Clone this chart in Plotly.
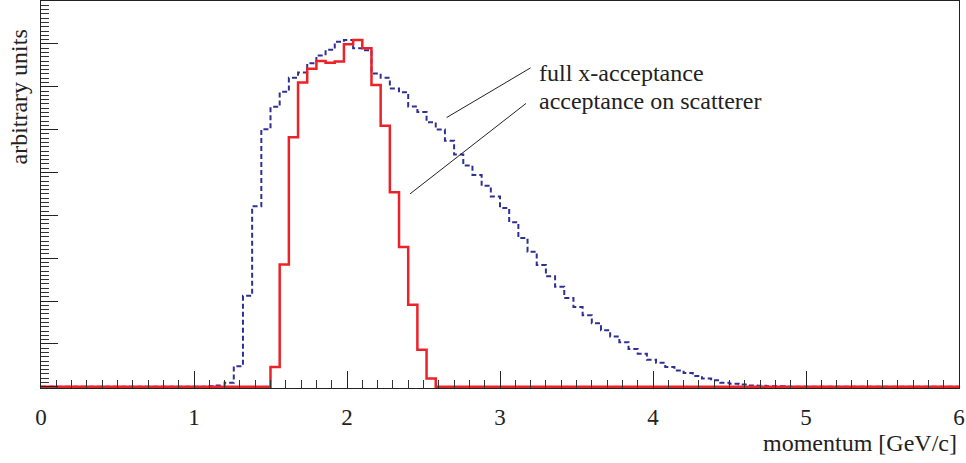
import numpy as np
import plotly.graph_objects as go

# histogram binning: 100 bins over 0..6 GeV/c
bin_edges = np.linspace(0.0, 6.0, 101)

# full x-acceptance (blue dashed), per bin
full_acc = [0]*18 + [
    0.01, 0.03, 0.09, 0.48, 2.12, 4.21, 6.01, 6.53, 6.88, 7.21,
    7.33, 7.55, 7.73, 7.86, 8.05, 8.09, 7.90, 7.85, 7.31, 7.21,
    6.96, 6.87, 6.54, 6.41, 6.17, 6.00, 5.74, 5.42, 5.16, 4.94,
    4.69, 4.44, 4.17, 3.84, 3.47, 3.15, 2.84, 2.58, 2.33, 2.07,
    1.86, 1.67, 1.48, 1.32, 1.17, 1.04, 0.88, 0.77, 0.63, 0.56,
    0.46, 0.38, 0.32, 0.25, 0.19, 0.15, 0.09, 0.07, 0.05, 0.03,
    0.02, 0.01, 0.01] + [0]*19

# acceptance on scatterer (red solid), per bin
scat_acc = [0]*25 + [
    0.46, 2.85, 5.82, 7.10, 7.42, 7.60, 7.56, 7.59, 7.99, 8.09,
    7.90, 7.04, 6.09, 4.54, 3.26, 1.91, 0.86, 0.19] + [0]*57

x_tick_vals = [0, 1, 2, 3, 4, 5, 6]
x_tick_text = ["0", "1", "2", "3", "4", "5", "6"]

label_full = "full x-acceptance"
label_scat = "acceptance on scatterer"
x_title = "momentum [GeV/c]"
y_title = "arbitrary units"

FONT = "Liberation Serif, Times New Roman, serif"
RED = "#ec2228"
BLUE = "#2e3192"


def step_xy(values):
    xs = list(bin_edges)
    ys = list(values) + [values[-1]]
    return xs, ys


fig = go.Figure()
bx, by = step_xy(full_acc)
fig.add_trace(go.Scatter(x=bx, y=by, mode="lines", line_shape="hv",
                         line=dict(color=BLUE, width=2, dash="5px,3px"),
                         showlegend=False, hoverinfo="skip"))
rx, ry = step_xy(scat_acc)
fig.add_trace(go.Scatter(x=rx, y=ry, mode="lines", line_shape="hv",
                         line=dict(color=RED, width=2.5),
                         showlegend=False, hoverinfo="skip"))

# pointer lines from labels to histograms (data coordinates)
fig.add_shape(type="line", x0=2.651, y0=6.28, x1=3.20, y1=7.44,
              line=dict(color="#222222", width=1))
fig.add_shape(type="line", x0=2.412, y0=4.50, x1=3.17, y1=6.61,
              line=dict(color="#222222", width=1))

fig.add_annotation(x=3.245, y=7.33, text=label_full, showarrow=False,
                   xanchor="left", yanchor="middle",
                   font=dict(family=FONT, size=24, color="#222222"))
fig.add_annotation(x=3.245, y=6.66, text=label_scat, showarrow=False,
                   xanchor="left", yanchor="middle",
                   font=dict(family=FONT, size=24, color="#222222"))

fig.add_annotation(xref="paper", yref="paper", x=1, y=0, yshift=-55,
                   text=x_title, showarrow=False, xanchor="right",
                   yanchor="middle",
                   font=dict(family=FONT, size=24, color="#222222"))
fig.add_annotation(xref="paper", yref="paper", x=0, xshift=-23,
                   y=1 - 27/387, text=y_title, showarrow=False,
                   textangle=-90, xanchor="center", yanchor="top",
                   font=dict(family=FONT, size=24, color="#222222"))

axis_common = dict(showline=True, mirror=True, linecolor="#222222",
                   linewidth=1, showgrid=False, zeroline=False,
                   ticks="inside", ticklen=17, tickwidth=1,
                   tickcolor="#222222")

fig.update_xaxes(range=[0, 6], tickmode="array", tickvals=x_tick_vals,
                 ticktext=x_tick_text, ticklabelstandoff=8,
                 tickfont=dict(family=FONT, size=23, color="#222222"),
                 minor=dict(dtick=0.1, tick0=0, ticks="inside", ticklen=8,
                            tickwidth=1, tickcolor="#333333",
                            showgrid=False),
                 **axis_common)
fig.update_yaxes(range=[-0.03, 9], tickmode="linear", tick0=0, dtick=1,
                 showticklabels=False,
                 minor=dict(dtick=0.1, tick0=0, ticks="inside", ticklen=8,
                            tickwidth=1, tickcolor="#333333",
                            showgrid=False),
                 **axis_common)

fig.update_layout(width=966, height=463,
                  margin=dict(l=41, r=7, t=1, b=75),
                  paper_bgcolor="white", plot_bgcolor="white",
                  showlegend=False)

fig.write_html("out.html")
